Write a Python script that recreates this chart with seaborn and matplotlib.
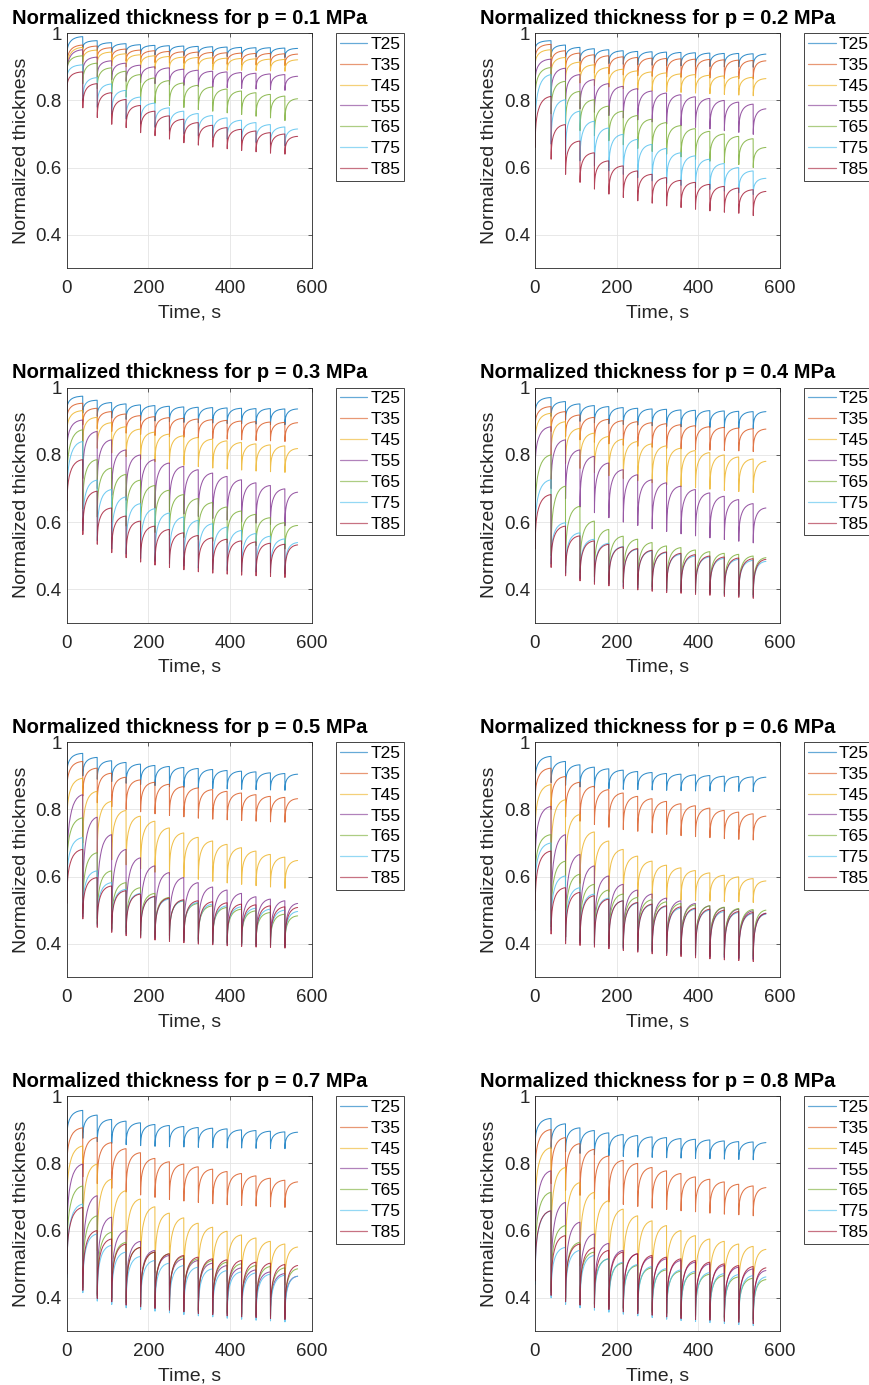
import numpy as np
import pandas as pd
import matplotlib
matplotlib.use("Agg")
import matplotlib.pyplot as plt
import seaborn as sns

# ---------------- data ----------------
series_labels = ["T25", "T35", "T45", "T55", "T65", "T75", "T85"]
series_colors = ["#0072BD", "#D95319", "#EDB120", "#7E2F8E", "#77AC30", "#4DBEEE", "#A2142F"]
pressures = ["0.1", "0.2", "0.3", "0.4", "0.5", "0.6", "0.7", "0.8"]

# load-cycle start times (s) and end of test
cycle_start = [0.0, 39.2, 74.6, 110.0, 145.3, 180.7, 216.0, 251.4, 286.7,
               322.1, 357.4, 392.8, 428.1, 463.5, 498.8, 534.2]
test_end = 565.5
start_value = 1.0
drop_time = 0.3
# shape of recovery inside one cycle (fraction of cycle time -> fraction of recovery)
recovery_time_frac = [0.0, 0.01, 0.03, 0.06, 0.10, 0.15, 0.22, 0.30, 0.40, 0.50, 0.62, 0.75, 0.87, 1.0]
recovery_frac = [0.0, 0.20, 0.35, 0.48, 0.58, 0.67, 0.75, 0.82, 0.88, 0.92, 0.955, 0.978, 0.992, 1.0]

# plateau (end of cycle) values, one list per series T25..T85
peak_p01 = [
    [0.990, 0.978, 0.972, 0.969, 0.966, 0.964, 0.963, 0.962, 0.961, 0.960, 0.959, 0.958, 0.957, 0.957, 0.956, 0.955],
    [0.965, 0.962, 0.957, 0.953, 0.950, 0.948, 0.946, 0.945, 0.944, 0.943, 0.942, 0.941, 0.940, 0.940, 0.939, 0.938],
    [0.958, 0.950, 0.944, 0.939, 0.936, 0.933, 0.931, 0.929, 0.928, 0.927, 0.926, 0.925, 0.924, 0.923, 0.922, 0.921],
    [0.951, 0.929, 0.918, 0.911, 0.905, 0.900, 0.897, 0.893, 0.890, 0.887, 0.885, 0.883, 0.881, 0.879, 0.877, 0.872],
    [0.933, 0.911, 0.897, 0.887, 0.877, 0.867, 0.859, 0.852, 0.845, 0.840, 0.834, 0.828, 0.823, 0.818, 0.813, 0.805],
    [0.906, 0.868, 0.849, 0.830, 0.810, 0.792, 0.778, 0.768, 0.761, 0.755, 0.748, 0.741, 0.734, 0.728, 0.721, 0.715],
    [0.885, 0.850, 0.823, 0.803, 0.785, 0.768, 0.754, 0.744, 0.734, 0.726, 0.719, 0.714, 0.709, 0.704, 0.700, 0.693],
]
trough_p01 = [
    [0.930, 0.955, 0.948, 0.943, 0.940, 0.938, 0.936, 0.935, 0.934, 0.933, 0.932, 0.931, 0.930, 0.930, 0.929, 0.928],
    [0.900, 0.930, 0.925, 0.920, 0.917, 0.915, 0.913, 0.912, 0.911, 0.910, 0.909, 0.908, 0.907, 0.906, 0.905, 0.904],
    [0.880, 0.915, 0.908, 0.903, 0.900, 0.897, 0.895, 0.894, 0.893, 0.892, 0.891, 0.890, 0.890, 0.889, 0.888, 0.887],
    [0.870, 0.880, 0.870, 0.862, 0.857, 0.853, 0.850, 0.847, 0.845, 0.842, 0.840, 0.838, 0.836, 0.834, 0.832, 0.830],
    [0.880, 0.850, 0.835, 0.820, 0.810, 0.800, 0.792, 0.785, 0.779, 0.773, 0.768, 0.763, 0.758, 0.753, 0.748, 0.740],
    [0.860, 0.800, 0.780, 0.760, 0.745, 0.730, 0.720, 0.710, 0.700, 0.695, 0.690, 0.685, 0.680, 0.675, 0.670, 0.665],
    [0.830, 0.778, 0.749, 0.729, 0.719, 0.704, 0.695, 0.685, 0.674, 0.667, 0.661, 0.656, 0.651, 0.647, 0.643, 0.640],
]

peak_p02 = [
    [0.978, 0.965, 0.958, 0.954, 0.951, 0.948, 0.946, 0.945, 0.944, 0.943, 0.942, 0.941, 0.940, 0.940, 0.939, 0.938],
    [0.967, 0.948, 0.941, 0.936, 0.933, 0.930, 0.928, 0.926, 0.925, 0.924, 0.923, 0.922, 0.921, 0.920, 0.919, 0.918],
    [0.951, 0.928, 0.914, 0.906, 0.898, 0.893, 0.888, 0.885, 0.882, 0.879, 0.877, 0.875, 0.873, 0.871, 0.869, 0.865],
    [0.923, 0.896, 0.877, 0.862, 0.850, 0.842, 0.835, 0.828, 0.822, 0.817, 0.811, 0.806, 0.800, 0.795, 0.789, 0.775],
    [0.898, 0.857, 0.827, 0.802, 0.783, 0.768, 0.755, 0.744, 0.734, 0.725, 0.716, 0.708, 0.700, 0.693, 0.686, 0.660],
    [0.877, 0.802, 0.768, 0.738, 0.718, 0.699, 0.684, 0.669, 0.657, 0.644, 0.635, 0.625, 0.612, 0.600, 0.590, 0.568],
    [0.812, 0.728, 0.679, 0.644, 0.620, 0.605, 0.590, 0.580, 0.570, 0.562, 0.556, 0.550, 0.544, 0.539, 0.534, 0.529],
]
trough_p02 = [
    [0.950, 0.930, 0.922, 0.917, 0.913, 0.910, 0.908, 0.906, 0.905, 0.904, 0.903, 0.902, 0.901, 0.900, 0.900, 0.899],
    [0.920, 0.900, 0.892, 0.886, 0.882, 0.879, 0.876, 0.874, 0.872, 0.870, 0.869, 0.868, 0.867, 0.866, 0.865, 0.864],
    [0.900, 0.875, 0.862, 0.852, 0.845, 0.840, 0.835, 0.832, 0.829, 0.826, 0.824, 0.822, 0.820, 0.818, 0.816, 0.814],
    [0.850, 0.810, 0.790, 0.775, 0.765, 0.755, 0.748, 0.742, 0.736, 0.730, 0.725, 0.720, 0.715, 0.710, 0.705, 0.699],
    [0.800, 0.760, 0.730, 0.710, 0.695, 0.680, 0.668, 0.657, 0.648, 0.640, 0.632, 0.625, 0.619, 0.614, 0.609, 0.600],
    [0.700, 0.670, 0.640, 0.620, 0.605, 0.590, 0.580, 0.570, 0.560, 0.553, 0.547, 0.541, 0.535, 0.530, 0.525, 0.520],
    [0.660, 0.625, 0.580, 0.556, 0.536, 0.521, 0.511, 0.501, 0.494, 0.486, 0.481, 0.476, 0.471, 0.467, 0.464, 0.457],
]

peak_p03 = [
    [0.975, 0.963, 0.956, 0.952, 0.949, 0.947, 0.945, 0.943, 0.942, 0.941, 0.940, 0.939, 0.938, 0.938, 0.937, 0.937],
    [0.954, 0.939, 0.929, 0.922, 0.917, 0.914, 0.911, 0.909, 0.907, 0.905, 0.903, 0.901, 0.899, 0.898, 0.897, 0.896],
    [0.932, 0.912, 0.896, 0.884, 0.877, 0.868, 0.862, 0.857, 0.852, 0.847, 0.842, 0.837, 0.833, 0.830, 0.827, 0.819],
    [0.904, 0.870, 0.845, 0.815, 0.800, 0.786, 0.776, 0.766, 0.756, 0.746, 0.736, 0.726, 0.717, 0.709, 0.699, 0.689],
    [0.875, 0.786, 0.761, 0.742, 0.725, 0.709, 0.695, 0.682, 0.670, 0.658, 0.645, 0.633, 0.623, 0.613, 0.598, 0.590],
    [0.840, 0.725, 0.697, 0.675, 0.655, 0.640, 0.627, 0.615, 0.605, 0.595, 0.585, 0.575, 0.566, 0.558, 0.550, 0.539],
    [0.786, 0.692, 0.642, 0.618, 0.603, 0.588, 0.578, 0.568, 0.560, 0.553, 0.549, 0.544, 0.541, 0.537, 0.534, 0.532],
]
trough_p03 = [
    [0.930, 0.925, 0.915, 0.910, 0.906, 0.903, 0.901, 0.899, 0.897, 0.896, 0.895, 0.894, 0.893, 0.892, 0.891, 0.890],
    [0.900, 0.890, 0.878, 0.870, 0.865, 0.861, 0.858, 0.855, 0.853, 0.851, 0.849, 0.847, 0.845, 0.843, 0.842, 0.840],
    [0.860, 0.840, 0.820, 0.806, 0.795, 0.787, 0.780, 0.774, 0.769, 0.765, 0.761, 0.758, 0.755, 0.752, 0.750, 0.748],
    [0.800, 0.730, 0.700, 0.680, 0.665, 0.652, 0.641, 0.632, 0.624, 0.617, 0.611, 0.606, 0.601, 0.597, 0.593, 0.589],
    [0.700, 0.640, 0.615, 0.600, 0.588, 0.578, 0.569, 0.561, 0.554, 0.548, 0.543, 0.538, 0.534, 0.530, 0.526, 0.520],
    [0.650, 0.575, 0.545, 0.520, 0.505, 0.492, 0.483, 0.476, 0.469, 0.463, 0.459, 0.456, 0.453, 0.451, 0.449, 0.446],
    [0.633, 0.563, 0.534, 0.509, 0.494, 0.481, 0.472, 0.465, 0.458, 0.452, 0.448, 0.445, 0.442, 0.440, 0.438, 0.435],
]

peak_p04 = [
    [0.971, 0.959, 0.952, 0.947, 0.944, 0.941, 0.939, 0.937, 0.936, 0.934, 0.933, 0.932, 0.931, 0.930, 0.929, 0.929],
    [0.944, 0.929, 0.919, 0.912, 0.906, 0.902, 0.899, 0.896, 0.893, 0.890, 0.887, 0.884, 0.882, 0.880, 0.878, 0.877],
    [0.924, 0.899, 0.879, 0.865, 0.855, 0.847, 0.840, 0.833, 0.827, 0.820, 0.813, 0.807, 0.800, 0.794, 0.788, 0.781],
    [0.884, 0.845, 0.815, 0.796, 0.776, 0.756, 0.741, 0.726, 0.717, 0.707, 0.697, 0.687, 0.677, 0.667, 0.655, 0.642],
    [0.800, 0.707, 0.647, 0.603, 0.578, 0.558, 0.549, 0.539, 0.529, 0.524, 0.517, 0.512, 0.507, 0.504, 0.499, 0.494],
    [0.726, 0.598, 0.568, 0.549, 0.537, 0.527, 0.519, 0.514, 0.509, 0.504, 0.499, 0.496, 0.492, 0.489, 0.486, 0.483],
    [0.682, 0.588, 0.559, 0.544, 0.534, 0.526, 0.521, 0.516, 0.511, 0.507, 0.503, 0.499, 0.496, 0.493, 0.491, 0.489],
]
trough_p04 = [
    [0.920, 0.915, 0.905, 0.900, 0.896, 0.893, 0.891, 0.889, 0.887, 0.885, 0.884, 0.883, 0.882, 0.881, 0.880, 0.879],
    [0.880, 0.870, 0.855, 0.845, 0.838, 0.833, 0.829, 0.826, 0.823, 0.820, 0.818, 0.816, 0.814, 0.813, 0.812, 0.810],
    [0.830, 0.800, 0.775, 0.760, 0.748, 0.738, 0.730, 0.723, 0.717, 0.711, 0.706, 0.702, 0.698, 0.694, 0.691, 0.688],
    [0.750, 0.700, 0.670, 0.645, 0.628, 0.613, 0.600, 0.590, 0.580, 0.572, 0.565, 0.559, 0.553, 0.548, 0.543, 0.538],
    [0.600, 0.500, 0.470, 0.450, 0.437, 0.428, 0.420, 0.413, 0.407, 0.402, 0.398, 0.394, 0.391, 0.388, 0.385, 0.383],
    [0.550, 0.475, 0.448, 0.432, 0.422, 0.416, 0.408, 0.404, 0.400, 0.396, 0.393, 0.390, 0.387, 0.384, 0.381, 0.378],
    [0.520, 0.465, 0.440, 0.425, 0.415, 0.410, 0.402, 0.398, 0.394, 0.390, 0.388, 0.385, 0.382, 0.379, 0.376, 0.373],
]

peak_p05 = [
    [0.967, 0.955, 0.945, 0.940, 0.935, 0.931, 0.928, 0.925, 0.922, 0.919, 0.916, 0.914, 0.912, 0.909, 0.907, 0.905],
    [0.943, 0.923, 0.908, 0.896, 0.888, 0.881, 0.875, 0.868, 0.864, 0.859, 0.854, 0.849, 0.844, 0.839, 0.836, 0.832],
    [0.893, 0.854, 0.824, 0.797, 0.780, 0.765, 0.745, 0.730, 0.717, 0.706, 0.696, 0.686, 0.676, 0.666, 0.658, 0.648],
    [0.844, 0.777, 0.725, 0.681, 0.656, 0.632, 0.612, 0.597, 0.582, 0.569, 0.560, 0.550, 0.540, 0.533, 0.528, 0.520],
    [0.775, 0.671, 0.617, 0.582, 0.567, 0.550, 0.538, 0.528, 0.520, 0.513, 0.508, 0.503, 0.498, 0.493, 0.488, 0.483],
    [0.716, 0.617, 0.582, 0.562, 0.550, 0.540, 0.533, 0.528, 0.523, 0.518, 0.513, 0.510, 0.506, 0.503, 0.500, 0.496],
    [0.681, 0.597, 0.572, 0.558, 0.548, 0.541, 0.536, 0.531, 0.528, 0.525, 0.522, 0.518, 0.516, 0.513, 0.510, 0.508],
]
trough_p05 = [
    [0.900, 0.900, 0.890, 0.883, 0.878, 0.874, 0.871, 0.868, 0.866, 0.864, 0.862, 0.861, 0.860, 0.859, 0.858, 0.857],
    [0.850, 0.840, 0.820, 0.808, 0.800, 0.793, 0.787, 0.782, 0.778, 0.774, 0.771, 0.769, 0.767, 0.765, 0.763, 0.762],
    [0.750, 0.700, 0.670, 0.650, 0.635, 0.623, 0.613, 0.605, 0.598, 0.592, 0.586, 0.581, 0.577, 0.573, 0.569, 0.565],
    [0.580, 0.500, 0.475, 0.460, 0.448, 0.438, 0.430, 0.424, 0.418, 0.413, 0.409, 0.405, 0.402, 0.399, 0.396, 0.393],
    [0.600, 0.490, 0.460, 0.445, 0.435, 0.427, 0.421, 0.416, 0.412, 0.408, 0.405, 0.402, 0.400, 0.398, 0.396, 0.394],
    [0.560, 0.480, 0.455, 0.440, 0.430, 0.422, 0.416, 0.412, 0.408, 0.404, 0.401, 0.398, 0.396, 0.394, 0.392, 0.390],
    [0.520, 0.474, 0.449, 0.434, 0.424, 0.417, 0.411, 0.407, 0.403, 0.399, 0.397, 0.394, 0.392, 0.390, 0.389, 0.387],
]

peak_p06 = [
    [0.958, 0.943, 0.933, 0.926, 0.921, 0.917, 0.913, 0.910, 0.907, 0.905, 0.903, 0.901, 0.899, 0.898, 0.897, 0.896],
    [0.923, 0.898, 0.881, 0.869, 0.859, 0.849, 0.839, 0.832, 0.824, 0.817, 0.811, 0.804, 0.797, 0.792, 0.787, 0.780],
    [0.874, 0.829, 0.785, 0.733, 0.706, 0.681, 0.661, 0.646, 0.634, 0.626, 0.618, 0.611, 0.604, 0.599, 0.594, 0.587],
    [0.809, 0.725, 0.666, 0.632, 0.602, 0.577, 0.560, 0.548, 0.536, 0.528, 0.520, 0.513, 0.508, 0.503, 0.498, 0.491],
    [0.725, 0.646, 0.607, 0.577, 0.560, 0.548, 0.538, 0.531, 0.525, 0.520, 0.516, 0.513, 0.509, 0.505, 0.502, 0.500],
    [0.700, 0.602, 0.567, 0.548, 0.536, 0.528, 0.521, 0.516, 0.511, 0.506, 0.503, 0.500, 0.496, 0.493, 0.490, 0.488],
    [0.676, 0.567, 0.553, 0.543, 0.533, 0.528, 0.523, 0.518, 0.513, 0.510, 0.506, 0.503, 0.500, 0.496, 0.493, 0.490],
]
trough_p06 = [
    [0.880, 0.880, 0.872, 0.867, 0.864, 0.862, 0.860, 0.859, 0.858, 0.857, 0.856, 0.855, 0.855, 0.854, 0.854, 0.853],
    [0.820, 0.800, 0.778, 0.765, 0.755, 0.747, 0.740, 0.735, 0.730, 0.726, 0.722, 0.719, 0.716, 0.713, 0.711, 0.709],
    [0.720, 0.640, 0.600, 0.580, 0.565, 0.555, 0.547, 0.540, 0.535, 0.532, 0.530, 0.528, 0.527, 0.526, 0.525, 0.523],
    [0.620, 0.460, 0.420, 0.408, 0.400, 0.394, 0.388, 0.383, 0.378, 0.374, 0.370, 0.367, 0.363, 0.360, 0.357, 0.354],
    [0.580, 0.450, 0.420, 0.410, 0.403, 0.397, 0.392, 0.387, 0.382, 0.378, 0.375, 0.372, 0.369, 0.366, 0.364, 0.362],
    [0.550, 0.440, 0.410, 0.402, 0.396, 0.390, 0.385, 0.380, 0.375, 0.371, 0.368, 0.364, 0.361, 0.358, 0.356, 0.353],
    [0.500, 0.429, 0.400, 0.395, 0.390, 0.385, 0.380, 0.375, 0.370, 0.365, 0.362, 0.358, 0.355, 0.352, 0.350, 0.347],
]

peak_p07 = [
    [0.958, 0.944, 0.931, 0.926, 0.921, 0.916, 0.913, 0.910, 0.907, 0.905, 0.903, 0.900, 0.898, 0.896, 0.894, 0.893],
    [0.906, 0.877, 0.862, 0.844, 0.832, 0.815, 0.805, 0.798, 0.790, 0.783, 0.776, 0.770, 0.763, 0.756, 0.750, 0.745],
    [0.852, 0.798, 0.753, 0.719, 0.694, 0.671, 0.652, 0.638, 0.622, 0.610, 0.598, 0.587, 0.578, 0.568, 0.560, 0.551],
    [0.798, 0.704, 0.640, 0.600, 0.568, 0.541, 0.526, 0.516, 0.511, 0.503, 0.496, 0.489, 0.483, 0.477, 0.472, 0.464],
    [0.733, 0.644, 0.595, 0.565, 0.550, 0.536, 0.531, 0.523, 0.516, 0.511, 0.506, 0.501, 0.496, 0.493, 0.489, 0.486],
    [0.679, 0.590, 0.556, 0.536, 0.523, 0.511, 0.503, 0.496, 0.491, 0.486, 0.481, 0.477, 0.474, 0.470, 0.467, 0.464],
    [0.669, 0.600, 0.575, 0.560, 0.550, 0.536, 0.531, 0.526, 0.521, 0.516, 0.513, 0.511, 0.506, 0.503, 0.499, 0.496],
]
trough_p07 = [
    [0.870, 0.875, 0.865, 0.860, 0.856, 0.853, 0.851, 0.850, 0.849, 0.848, 0.847, 0.846, 0.846, 0.845, 0.845, 0.844],
    [0.780, 0.760, 0.740, 0.726, 0.715, 0.706, 0.699, 0.693, 0.688, 0.684, 0.680, 0.677, 0.675, 0.673, 0.671, 0.669],
    [0.660, 0.580, 0.540, 0.515, 0.498, 0.485, 0.475, 0.467, 0.461, 0.456, 0.452, 0.448, 0.445, 0.442, 0.440, 0.438],
    [0.550, 0.440, 0.410, 0.398, 0.388, 0.382, 0.377, 0.372, 0.367, 0.363, 0.359, 0.356, 0.353, 0.350, 0.347, 0.344],
    [0.500, 0.430, 0.405, 0.394, 0.384, 0.378, 0.373, 0.368, 0.363, 0.359, 0.355, 0.352, 0.349, 0.346, 0.343, 0.340],
    [0.460, 0.415, 0.390, 0.380, 0.370, 0.365, 0.360, 0.355, 0.350, 0.346, 0.343, 0.339, 0.336, 0.333, 0.331, 0.328],
    [0.470, 0.422, 0.398, 0.388, 0.378, 0.373, 0.368, 0.363, 0.358, 0.353, 0.350, 0.346, 0.343, 0.341, 0.338, 0.335],
]

peak_p08 = [
    [0.934, 0.918, 0.906, 0.898, 0.891, 0.886, 0.883, 0.879, 0.877, 0.874, 0.872, 0.870, 0.867, 0.865, 0.864, 0.862],
    [0.901, 0.877, 0.859, 0.842, 0.822, 0.809, 0.800, 0.788, 0.778, 0.770, 0.760, 0.753, 0.745, 0.738, 0.733, 0.728],
    [0.847, 0.788, 0.743, 0.714, 0.689, 0.664, 0.644, 0.629, 0.615, 0.600, 0.585, 0.575, 0.568, 0.560, 0.553, 0.544],
    [0.778, 0.684, 0.625, 0.590, 0.562, 0.541, 0.531, 0.521, 0.516, 0.511, 0.506, 0.501, 0.496, 0.491, 0.486, 0.481],
    [0.714, 0.615, 0.565, 0.536, 0.516, 0.503, 0.496, 0.489, 0.483, 0.479, 0.474, 0.470, 0.466, 0.462, 0.458, 0.454],
    [0.659, 0.550, 0.541, 0.526, 0.516, 0.506, 0.499, 0.493, 0.487, 0.483, 0.479, 0.475, 0.472, 0.469, 0.466, 0.462],
    [0.659, 0.585, 0.560, 0.549, 0.541, 0.536, 0.531, 0.526, 0.521, 0.516, 0.511, 0.506, 0.501, 0.496, 0.493, 0.489],
]
trough_p08 = [
    [0.850, 0.845, 0.835, 0.830, 0.826, 0.823, 0.821, 0.819, 0.818, 0.817, 0.816, 0.815, 0.814, 0.813, 0.812, 0.811],
    [0.760, 0.740, 0.720, 0.705, 0.694, 0.685, 0.678, 0.672, 0.667, 0.663, 0.659, 0.656, 0.652, 0.649, 0.647, 0.644],
    [0.640, 0.560, 0.520, 0.495, 0.478, 0.465, 0.455, 0.447, 0.440, 0.435, 0.430, 0.426, 0.422, 0.419, 0.416, 0.413],
    [0.520, 0.420, 0.400, 0.390, 0.382, 0.376, 0.370, 0.365, 0.360, 0.355, 0.351, 0.348, 0.345, 0.342, 0.339, 0.336],
    [0.480, 0.415, 0.395, 0.385, 0.378, 0.372, 0.366, 0.361, 0.356, 0.351, 0.347, 0.344, 0.341, 0.338, 0.335, 0.332],
    [0.440, 0.400, 0.380, 0.370, 0.363, 0.357, 0.351, 0.346, 0.341, 0.336, 0.332, 0.329, 0.326, 0.323, 0.320, 0.317],
    [0.450, 0.407, 0.388, 0.378, 0.371, 0.365, 0.358, 0.353, 0.348, 0.343, 0.338, 0.335, 0.333, 0.330, 0.327, 0.323],
]

x_ticks = [0, 200, 400, 600]
y_ticks = [0.4, 0.6, 0.8, 1.0]
y_tick_labels = ["0.4", "0.6", "0.8", "1"]

panel_peaks = [peak_p01, peak_p02, peak_p03, peak_p04, peak_p05, peak_p06, peak_p07, peak_p08]
panel_troughs = [trough_p01, trough_p02, trough_p03, trough_p04, trough_p05, trough_p06, trough_p07, trough_p08]


def build_frame(peaks, troughs):
    rows = []
    bounds = cycle_start + [test_end]
    for label, pk, tr in zip(series_labels, peaks, troughs):
        rows.append((0.0, start_value, label))
        for k in range(len(cycle_start)):
            t0, t1 = bounds[k], bounds[k + 1]
            for ft, fv in zip(recovery_time_frac, recovery_frac):
                t = t0 + drop_time + (t1 - t0 - drop_time) * ft
                v = tr[k] + (pk[k] - tr[k]) * fv
                rows.append((t, v, label))
    return pd.DataFrame(rows, columns=["time", "thickness", "series"])


# ---------------- styling ----------------
sns.set_theme(style="whitegrid")
plt.rcParams["font.family"] = ["Liberation Sans", "DejaVu Sans"]
plt.rcParams["axes.edgecolor"] = "#262626"
plt.rcParams["text.color"] = "#000000"

W, H = 870, 1385
fig = plt.figure(figsize=(W / 100, H / 100), dpi=100)
fig.patch.set_facecolor("white")

col_left = [66.7, 535.0]
row_top = [33.3, 387.8, 742.3, 1096.3]
ax_w, ax_h = 245.0, 235.0

for i, p in enumerate(pressures):
    r, c = divmod(i, 2)
    rect = [col_left[c] / W, 1 - (row_top[r] + ax_h) / H, ax_w / W, ax_h / H]
    ax = fig.add_axes(rect)
    df = build_frame(panel_peaks[i], panel_troughs[i])
    sns.lineplot(data=df, x="time", y="thickness", hue="series",
                 hue_order=series_labels, palette=series_colors,
                 estimator=None, sort=False, linewidth=0.75, alpha=0.8,
                 ax=ax, legend=True)
    ax.set_xlim(0, 600)
    ax.set_ylim(0.3, 1.0)
    ax.set_xticks(x_ticks)
    ax.set_xticklabels([str(v) for v in x_ticks])
    ax.set_yticks(y_ticks)
    ax.set_yticklabels(y_tick_labels)
    ax.grid(True, color="#e4e4e4", linewidth=0.6)
    ax.set_axisbelow(True)
    ax.set_facecolor("white")
    for s in ax.spines.values():
        s.set_visible(True)
        s.set_color("#262626")
        s.set_linewidth(0.6)
    ax.tick_params(direction="in", length=3, width=0.5, top=True, right=True,
                   labelsize=13.5, colors="#262626")
    ax.tick_params(axis="x", pad=8.5)
    ax.tick_params(axis="y", pad=3.5)
    ax.set_xlabel("Time, s", fontsize=14, color="#262626", labelpad=5)
    ax.set_ylabel("Normalized thickness", fontsize=14, color="#262626", labelpad=4)
    ax.set_title(f"Normalized thickness for p = {p} MPa", fontsize=14.5,
                 fontweight="bold", pad=7)
    handles, labels = ax.get_legend_handles_labels()
    leg = ax.legend(handles, labels, loc="upper left", bbox_to_anchor=(1.1, 1.0),
                    borderaxespad=0, frameon=True, fancybox=False, framealpha=1,
                    edgecolor="#262626", fontsize=12.5, handlelength=1.6,
                    handletextpad=0.16, labelspacing=0.33, borderpad=0.2)
    leg.get_frame().set_linewidth(0.6)
    for line in leg.get_lines():
        line.set_linewidth(0.9)
        line.set_alpha(0.6)

fig.savefig("out.png", dpi=100, facecolor="white")
